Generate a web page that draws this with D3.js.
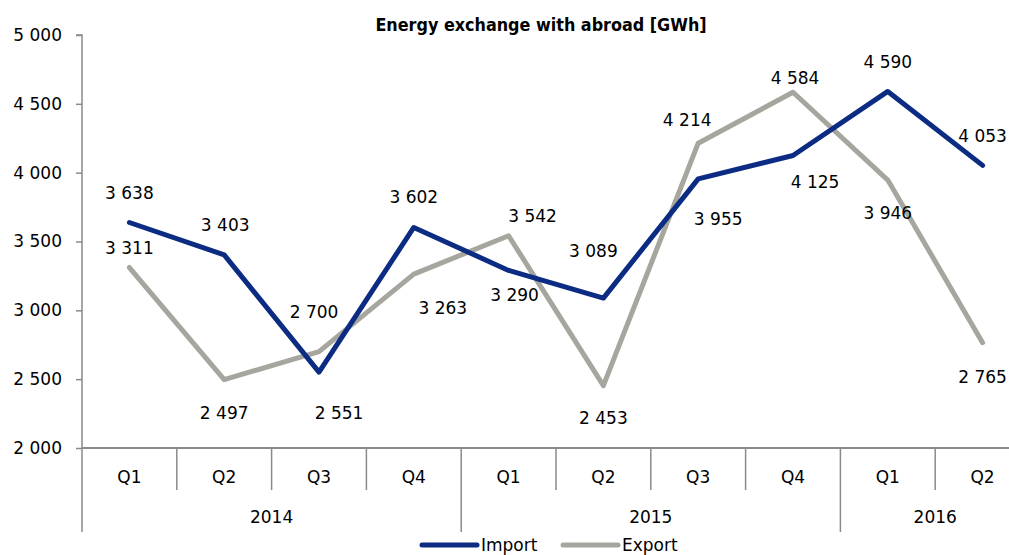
<!DOCTYPE html>
<html>
<head>
<meta charset="utf-8">
<script src="https://cdn.jsdelivr.net/npm/d3@7"></script>
<style>
  body { margin: 0; background: #fff; }
  text { font-family: "DejaVu Sans", sans-serif; fill: #000; }
</style>
</head>
<body>
<svg id="chart" width="1009" height="555"></svg>
<script>
// data
var quarters = ["Q1", "Q2", "Q3", "Q4", "Q1", "Q2", "Q3", "Q4", "Q1", "Q2"];
var quarterYears = ["2014", "2014", "2014", "2014", "2015", "2015", "2015", "2015", "2016", "2016"];
var importValues = [3638, 3403, 2551, 3602, 3290, 3089, 3955, 4125, 4590, 4053];
var exportValues = [3311, 2497, 2700, 3263, 3542, 2453, 4214, 4584, 3946, 2765];
var yTicks = [2000, 2500, 3000, 3500, 4000, 4500, 5000];

// label placement (pixels from the point), as in the original sheet
var importLabelShift = [[0, -30], [1, -30], [20, 41], [0, -30], [6, 25], [-10, -47], [20, 40], [22, 27], [0, -29], [0, -29]];
var exportLabelShift = [[0, -20], [0, 33], [-5, -40], [29, 34], [24, -20], [0, 32], [-11, -23], [2, -14], [0, 33], [0, 34]];

var svg = d3.select("#chart");
var plotLeft = 82, plotRight = 1030, plotTop = 35, plotBottom = 448;
var axisColour = "#8a8a8a";
var fmt = function(v) { return d3.format(",")(v).replace(/,/g, " "); };

var x = d3.scaleBand().domain(d3.range(quarters.length)).range([plotLeft, plotRight]);
var y = d3.scaleLinear().domain([2000, 5000]).range([plotBottom, plotTop]);
var cx = function(i) { return x(i) + x.bandwidth() / 2; };

svg.append("text")
    .attr("x", 541).attr("y", 24)
    .attr("text-anchor", "middle")
    .attr("dominant-baseline", "central")
    .style("font-family", "'DejaVu Sans Condensed', 'DejaVu Sans', sans-serif")
    .style("font-weight", "bold")
    .style("font-size", "17.8px")
    .text("Energy exchange with abroad [GWh]");

// y axis
var yAxis = svg.append("g")
    .attr("transform", "translate(" + plotLeft + ",0)")
    .call(d3.axisLeft(y).tickValues(yTicks).tickSize(6).tickPadding(14).tickFormat(fmt));
yAxis.select(".domain").attr("stroke", axisColour).attr("stroke-width", 1.5).attr("d", "M-6," + plotTop + "H0V" + plotBottom);
yAxis.selectAll(".tick line").attr("stroke", axisColour).attr("stroke-width", 1.5);
yAxis.selectAll(".tick text").style("font-size", "17px").style("font-family", "'DejaVu Sans', sans-serif").attr("fill", "#000");

// category axis
var cat = svg.append("g");
cat.append("line")
    .attr("x1", plotLeft).attr("x2", plotRight).attr("y1", plotBottom).attr("y2", plotBottom)
    .attr("stroke", axisColour).attr("stroke-width", 2);

var boundaries = d3.range(quarters.length + 1);
cat.selectAll(".sep")
  .data(boundaries)
  .join("line")
    .attr("class", "sep")
    .attr("x1", function(i) { return i < quarters.length ? x(i) : plotRight; })
    .attr("x2", function(i) { return i < quarters.length ? x(i) : plotRight; })
    .attr("y1", plotBottom)
    .attr("y2", function(i) {
      var isYear = i == 0 || i == quarters.length || quarterYears[i] !== quarterYears[i - 1];
      return isYear ? 532 : 490;
    })
    .attr("stroke", axisColour).attr("stroke-width", 1.5);

cat.selectAll(".q")
  .data(quarters)
  .join("text")
    .attr("class", "q")
    .attr("x", function(d, i) { return cx(i); })
    .attr("y", 477)
    .attr("text-anchor", "middle")
    .attr("dominant-baseline", "central")
    .style("font-size", "17px")
    .text(function(d) { return d; });

var yearGroups = d3.groups(quarters.map(function(q, i) { return i; }), function(i) { return quarterYears[i]; });
cat.selectAll(".yr")
  .data(yearGroups)
  .join("text")
    .attr("class", "yr")
    .attr("x", function(g) {
      var idx = g[1];
      return (x(idx[0]) + x(idx[idx.length - 1]) + x.bandwidth()) / 2;
    })
    .attr("y", 517)
    .attr("text-anchor", "middle")
    .attr("dominant-baseline", "central")
    .style("font-size", "17px")
    .text(function(g) { return g[0]; });

// lines
var series = [
  { name: "Import", values: importValues, colour: "#0b2c82", shift: importLabelShift },
  { name: "Export", values: exportValues, colour: "#a6a69f", shift: exportLabelShift }
];

var line = d3.line().x(function(d, i) { return cx(i); }).y(function(d) { return y(d); });

// export is drawn first so import sits on top
series.slice().reverse().forEach(function(s) {
  svg.append("path")
      .datum(s.values)
      .attr("fill", "none")
      .attr("stroke", s.colour)
      .attr("stroke-width", 5)
      .attr("stroke-linejoin", "round")
      .attr("stroke-linecap", "round")
      .attr("d", line);
});

series.forEach(function(s) {
  svg.append("g").selectAll("text")
    .data(s.values)
    .join("text")
      .attr("x", function(d, i) { return cx(i) + s.shift[i][0]; })
      .attr("y", function(d, i) { return y(d) + s.shift[i][1]; })
      .attr("text-anchor", "middle")
      .attr("dominant-baseline", "central")
      .style("font-size", "17px")
      .text(fmt);
});

// legend
var legendX = [422, 563];
var legend = svg.append("g").selectAll("g")
  .data(series)
  .join("g")
    .attr("transform", function(d, i) { return "translate(" + legendX[i] + ",545)"; });
legend.append("line")
    .attr("x1", 0).attr("x2", 55)
    .attr("stroke", function(d) { return d.colour; })
    .attr("stroke-width", 5)
    .attr("stroke-linecap", "round");
legend.append("text")
    .attr("x", 59)
    .attr("dominant-baseline", "central")
    .style("font-size", "17px")
    .text(function(d) { return d.name; });
</script>
</body>
</html>
